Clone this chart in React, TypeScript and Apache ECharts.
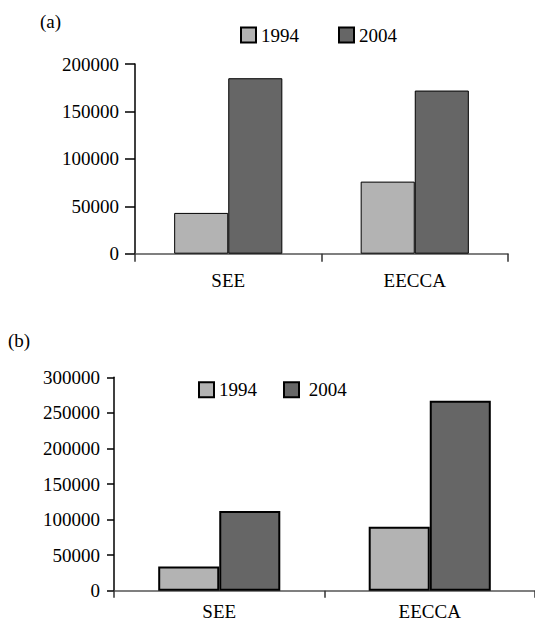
import React, { useEffect, useRef } from "react";
import * as echarts from "echarts";

const categories = ["SEE", "EECCA"];
const seriesNames = ["1994", "2004"];
const a1994 = [43000, 76000];
const a2004 = [185000, 172000];
const b1994 = [34000, 90000];
const b2004 = [112000, 267000];
const panelLabels = ["(a)", "(b)"];

const FONT = "Liberation Serif";
const LIGHT = "#b3b3b3";
const DARK = "#666666";

export default function App() {
  const ref = useRef<HTMLDivElement>(null);
  useEffect(() => {
    if (!ref.current) return;
    const chart = echarts.init(ref.current, undefined, { renderer: "svg" });
    const yAxisCommon = (max: number, tickLen: number, margin: number) => ({
      type: "value",
      min: 0,
      max,
      interval: 50000,
      splitLine: { show: false },
      axisLine: { show: true, lineStyle: { color: "#000", width: 1.5 } },
      axisTick: { show: true, length: tickLen, lineStyle: { color: "#000", width: 1.5 } },
      axisLabel: {
        color: "#000",
        fontFamily: FONT,
        fontSize: 19,
        margin,
        formatter: (v: number) => String(v),
      },
    });
    const xAxisCommon = (gridIndex: number, margin: number, tickLen: number) => ({
      type: "category",
      gridIndex,
      data: categories,
      axisLine: { show: true, lineStyle: { color: "#555", width: 1.5 } },
      axisTick: { show: true, length: tickLen, lineStyle: { color: "#333", width: 1.5 } },
      axisLabel: { color: "#000", fontFamily: FONT, fontSize: 19, margin },
    });
    const bar = (name: string, data: number[], idx: number, color: string, bw: number) => ({
      type: "bar",
      name,
      data,
      xAxisIndex: idx,
      yAxisIndex: idx,
      barGap: "0%",
      barCategoryGap: "42%",
      itemStyle: { color, borderColor: "#000", borderWidth: bw },
    });
    chart.setOption({
      animation: false,
      textStyle: { fontFamily: FONT },
      grid: [
        { left: 135, top: 64, right: 27, bottom: 370.3, containLabel: false },
        { left: 114, top: 377.3, right: 0, bottom: 33.3, containLabel: false },
      ],
      xAxis: [xAxisCommon(0, 17, 8), xAxisCommon(1, 11, 7)],
      yAxis: [
        { ...yAxisCommon(200000, 10, 16), gridIndex: 0 },
        { ...yAxisCommon(300000, 7, 14), gridIndex: 1 },
      ],
      legend: [
        {
          left: 240,
          top: 25.5,
          padding: 0,
          itemWidth: 15,
          itemHeight: 15,
          itemGap: 39,
          icon: "rect",
          data: [seriesNames[0], seriesNames[1]],
          textStyle: { color: "#000", fontFamily: FONT, fontSize: 19 },
        },
        {
          left: 198,
          top: 380.3,
          padding: 0,
          itemWidth: 15,
          itemHeight: 15,
          itemGap: 26,
          icon: "rect",
          data: [seriesNames[0] + " ", seriesNames[1] + " "],
          formatter: (n: string) => (n.trim() === seriesNames[1] ? " " + n.trim() : n.trim()),
          textStyle: { color: "#000", fontFamily: FONT, fontSize: 19 },
        },
      ],
      graphic: [
        {
          type: "text",
          left: 40,
          top: 12,
          style: { text: panelLabels[0], fontFamily: FONT, fontSize: 19, fill: "#000" },
        },
        {
          type: "text",
          left: 8,
          top: 331,
          style: { text: panelLabels[1], fontFamily: FONT, fontSize: 19, fill: "#000" },
        },
      ],
      series: [
        bar(seriesNames[0], a1994, 0, LIGHT, 1),
        bar(seriesNames[1], a2004, 0, DARK, 1),
        bar(seriesNames[0] + " ", b1994, 1, LIGHT, 2),
        bar(seriesNames[1] + " ", b2004, 1, DARK, 2),
      ],
    });
    return () => chart.dispose();
  }, []);
  return (
    <div
      ref={ref}
      style={{ position: "absolute", left: 0, top: 0, width: 535, height: 624, background: "#fff" }}
    />
  );
}
